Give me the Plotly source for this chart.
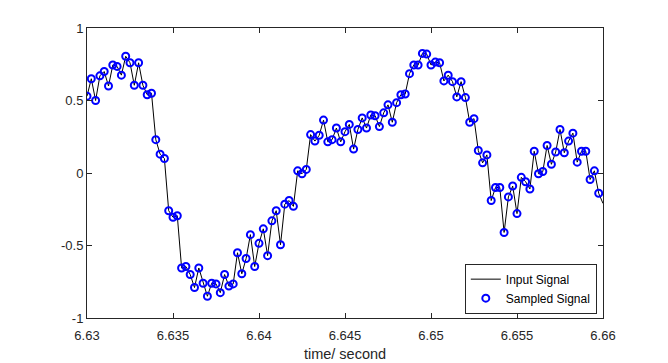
import plotly.graph_objects as go

# Sampled signal: 4 kHz samples starting at t = 6.63 s
t_start = 6.63
sample_period = 0.00025
sampled_values = [
    0.53, 0.65, 0.50, 0.67, 0.70, 0.60, 0.745, 0.735, 0.675, 0.805,
    0.76, 0.605, 0.76, 0.605, 0.54, 0.55, 0.23, 0.13, 0.10, -0.26,
    -0.305, -0.295, -0.655, -0.645, -0.70, -0.79, -0.655, -0.76, -0.85, -0.76,
    -0.765, -0.825, -0.70, -0.78, -0.765, -0.55, -0.695, -0.59, -0.425, -0.645,
    -0.485, -0.385, -0.57, -0.33, -0.26, -0.495, -0.215, -0.19, -0.23, 0.015,
    -0.005, 0.025, 0.265, 0.22, 0.26, 0.365, 0.215, 0.23, 0.31, 0.215,
    0.285, 0.335, 0.165, 0.30, 0.38, 0.31, 0.40, 0.395, 0.32, 0.415,
    0.47, 0.35, 0.485, 0.54, 0.545, 0.685, 0.745, 0.745, 0.825, 0.82,
    0.745, 0.765, 0.76, 0.635, 0.675, 0.63, 0.525, 0.63, 0.52, 0.35,
    0.375, 0.155, 0.07, 0.125, -0.19, -0.10, -0.10, -0.41, -0.165, -0.09,
    -0.28, -0.03, -0.06, -0.11, 0.15, -0.005, 0.01, 0.19, 0.06, 0.145,
    0.30, 0.14, 0.22, 0.275, 0.075, 0.15, 0.15, -0.045, 0.015, -0.14,
]
sample_times = [t_start + k * sample_period for k in range(len(sampled_values))]

# Input signal: passes through the samples and continues to the axis end
input_times = sample_times + [6.66]
input_values = sampled_values + [-0.21]

x_ticks = [6.63, 6.635, 6.64, 6.645, 6.65, 6.655, 6.66]
x_tick_labels = ["6.63", "6.635", "6.64", "6.645", "6.65", "6.655", "6.66"]
y_ticks = [-1, -0.5, 0, 0.5, 1]
y_tick_labels = ["-1", "-0.5", "0", "0.5", "1"]

FONT = "Liberation Sans, Arial, Helvetica, sans-serif"
INK = "#262626"

fig = go.Figure()
fig.add_trace(go.Scatter(
    x=input_times, y=input_values, mode="lines", name="Input Signal",
    line=dict(color="black", width=1),
))
fig.add_trace(go.Scatter(
    x=sample_times, y=sampled_values, mode="markers", name="Sampled Signal",
    marker=dict(symbol="circle-open", size=7, color="#0000FF",
                line=dict(width=2, color="#0000FF")),
))

axis_common = dict(
    showline=True, linecolor=INK, linewidth=1, mirror="ticks",
    ticks="inside", ticklen=5, tickcolor=INK, showgrid=False,
    zeroline=False, automargin=False,
    tickfont=dict(family=FONT, size=13, color=INK),
)

fig.update_layout(
    width=668, height=363,
    margin=dict(l=87, r=65, t=28, b=45),
    paper_bgcolor="white", plot_bgcolor="white",
    showlegend=True,
    legend=dict(
        x=0.988, y=0.015, xanchor="right", yanchor="bottom",
        bgcolor="white", bordercolor=INK, borderwidth=1,
        font=dict(family=FONT, size=12, color="black"),
        tracegroupgap=0,
    ),
    xaxis=dict(range=[6.63, 6.66], tickvals=x_ticks, ticktext=x_tick_labels,
               ticklabelstandoff=5,
               title=dict(text="time/ second", standoff=7,
                          font=dict(family=FONT, size=14.5, color=INK)),
               **axis_common),
    yaxis=dict(range=[-1, 1], tickvals=y_ticks, ticktext=y_tick_labels, **axis_common),
)

fig.write_html("out.html", config={"displayModeBar": False},
               post_script="document.body.style.margin='0';")
